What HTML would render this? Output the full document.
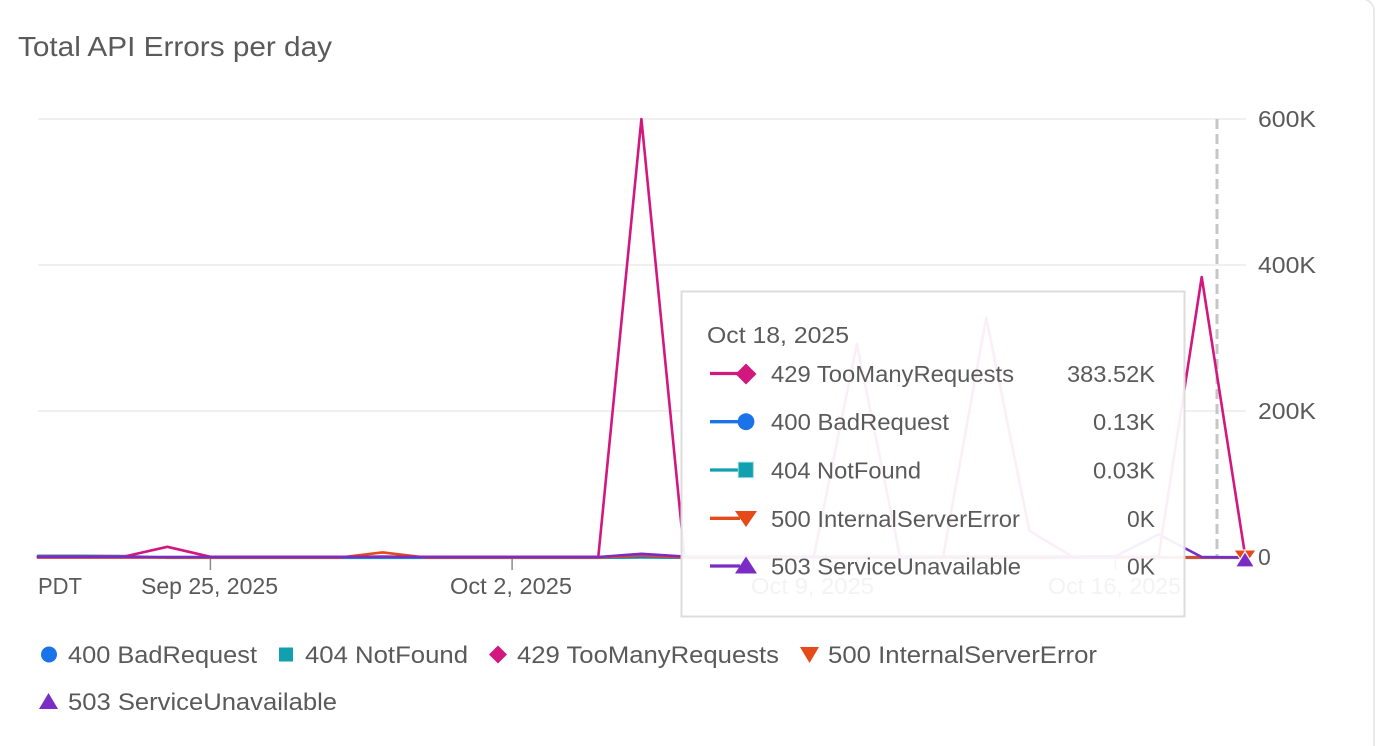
<!DOCTYPE html>
<html><head><meta charset="utf-8"><style>
html,body{margin:0;padding:0;background:#fff;width:1378px;height:746px;overflow:hidden;}
svg{display:block;}
text{font-family:"Liberation Sans",Arial,sans-serif;fill:#5a5a5a;}
</style></head><body>
<svg width="1378" height="746" viewBox="0 0 1378 746" xmlns="http://www.w3.org/2000/svg">
<rect x="0" y="0" width="1378" height="746" fill="#ffffff"/>
<rect x="-20" y="-1" width="1394" height="760" rx="12" fill="#ffffff" stroke="#e4e4e4" stroke-width="1.5"/>

<text x="18" y="56" font-size="28" textLength="314" lengthAdjust="spacingAndGlyphs">Total API Errors per day</text>

<!-- grid -->
<g stroke="#ececec" stroke-width="1.5">
<line x1="38" y1="119" x2="1246" y2="119"/>
<line x1="38" y1="265" x2="1246" y2="265"/>
<line x1="38" y1="411" x2="1246" y2="411"/>
<line x1="38" y1="557" x2="1246" y2="557"/>
</g>

<!-- y labels -->
<g font-size="23">
<text x="1258" y="127" textLength="58" lengthAdjust="spacingAndGlyphs">600K</text>
<text x="1258" y="273" textLength="58" lengthAdjust="spacingAndGlyphs">400K</text>
<text x="1258" y="419" textLength="58" lengthAdjust="spacingAndGlyphs">200K</text>
<text x="1258" y="565">0</text>
</g>

<!-- ticks -->
<g stroke="#8a8a8a" stroke-width="1.5">
<line x1="210.4" y1="559" x2="210.4" y2="570"/>
<line x1="512.1" y1="559" x2="512.1" y2="570"/>
<line x1="813.8" y1="559" x2="813.8" y2="570"/>
<line x1="1115.5" y1="559" x2="1115.5" y2="570"/>
</g>

<!-- x labels -->
<g font-size="23">
<text x="38" y="594" textLength="44" lengthAdjust="spacingAndGlyphs">PDT</text>
<text x="141" y="594" textLength="137" lengthAdjust="spacingAndGlyphs">Sep 25, 2025</text>
<text x="450" y="594" textLength="122" lengthAdjust="spacingAndGlyphs">Oct 2, 2025</text>
<text x="751" y="594" textLength="123" lengthAdjust="spacingAndGlyphs">Oct 9, 2025</text>
<text x="1048" y="594" textLength="133" lengthAdjust="spacingAndGlyphs">Oct 16, 2025</text>
</g>

<!-- dashed crosshair -->
<line x1="1217" y1="119" x2="1217" y2="557" stroke="#c6c6c6" stroke-width="3" stroke-dasharray="10 5"/>

<!-- series -->
<g fill="none" stroke-width="2.6" stroke-linejoin="round" stroke-linecap="round">
<polyline stroke="#12a0b0" points="38,555.8 81.1,555.8 124.2,556 167.3,557.8 210.4,557.8 253.5,557.8 296.6,557.8 339.7,557.8 382.8,557.8 425.9,557.8 469,557.8 512.1,557.8 555.2,557.8 598.3,557.8 641.4,557.5 684.5,557.8 727.6,557.8 770.7,557.8 813.8,557.8 856.9,557.8 900,557.8 943.1,557.8 986.2,557.8 1029.3,557.8 1072.4,557.8 1115.5,557.8 1158.6,557.8 1201.7,557.8 1244.8,557.8"/>
<polyline stroke="#1a73e8" points="38,557.2 81.1,557.2 124.2,557.2 167.3,557.2 210.4,557.2 253.5,557.2 296.6,557.2 339.7,557.2 382.8,557.2 425.9,557.2 469,557.2 512.1,557.2 555.2,557.2 598.3,557.2 641.4,556.5 684.5,557.2 727.6,557.2 770.7,557.2 813.8,557.2 856.9,557.2 900,557.2 943.1,557.2 986.2,557.2 1029.3,557.2 1072.4,557.2 1115.5,557.2 1158.6,557.2 1201.7,557.2 1244.8,557.2"/>
<polyline stroke="#e64a19" points="38,557.6 81.1,557.6 124.2,557.6 167.3,557.6 210.4,557.6 253.5,557.6 296.6,557.6 339.7,557.6 382.8,552.4 425.9,557.6 469,557.6 512.1,557.6 555.2,557.6 598.3,557.6 641.4,555.5 684.5,557.6 727.6,557.6 770.7,557.6 813.8,557.6 856.9,557.6 900,557.6 943.1,557.6 986.2,557.6 1029.3,557.6 1072.4,557.6 1115.5,557.6 1158.6,557.6 1201.7,557.6 1244.8,557.6"/>
<polyline stroke="#d2177f" points="38,556.6 81.1,556.6 124.2,556.6 167.3,546.8 210.4,556.8 253.5,556.8 296.6,556.8 339.7,556.8 382.8,556.8 425.9,556.8 469,556.8 512.1,556.8 555.2,556.8 598.3,556.8 641.4,119 684.5,556.8 727.6,556.8 770.7,556.8 813.8,556.8 856.9,343.8 900,556.8 943.1,556.8 986.2,317.6 1029.3,530.7 1072.4,556.8 1115.5,556.8 1158.6,556.8 1201.7,277 1244.8,553.4"/>
<polyline stroke="#7a2cc4" points="38,557 81.1,557 124.2,557 167.3,557 210.4,557 253.5,557 296.6,557 339.7,557 382.8,556.6 425.9,557 469,557 512.1,557 555.2,557 598.3,557 641.4,553.8 684.5,556.6 727.6,556.6 770.7,556.6 813.8,556.6 856.9,556.6 900,556.6 943.1,556.6 986.2,556.6 1029.3,556.6 1072.4,556.6 1115.5,556.2 1158.6,534.4 1201.7,557 1244.8,557.5"/>
</g>

<!-- hover markers at end -->
<polygon points="1234,550 1256,550 1245,566" fill="#e64a19" stroke="#fff" stroke-width="1"/>
<polygon points="1235.5,567 1254.5,567 1245,551.5" fill="#7a2cc4" stroke="#fff" stroke-width="1.2"/>

<!-- tooltip -->
<rect x="681.5" y="291.5" width="503" height="325" fill="#ffffff" fill-opacity="0.93" stroke="#dcdcde" stroke-width="2"/>
<text x="707" y="343" font-size="23" textLength="142" lengthAdjust="spacingAndGlyphs">Oct 18, 2025</text>

<g stroke-width="3.3">
<line x1="710" y1="373.5" x2="738" y2="373.5" stroke="#d2177f"/>
<line x1="710" y1="421.7" x2="738" y2="421.7" stroke="#1a73e8"/>
<line x1="710" y1="470" x2="738" y2="470" stroke="#12a0b0"/>
<line x1="710" y1="518.3" x2="740" y2="518.3" stroke="#e64a19"/>
<line x1="710" y1="566" x2="740" y2="566" stroke="#7a2cc4"/>
</g>
<polygon points="746,363.5 756.5,374 746,384.5 735.5,374" fill="#d2177f"/>
<circle cx="746" cy="421.7" r="8.4" fill="#1a73e8"/>
<rect x="738.3" y="462.2" width="15" height="15.4" fill="#12a0b0" stroke="#8fd5dd" stroke-width="1"/>
<polygon points="735,511 757,511 746,527" fill="#e64a19"/>
<polygon points="735,573.5 757,573.5 746,556.5" fill="#7a2cc4"/>

<g font-size="23">
<text x="771" y="382" textLength="243" lengthAdjust="spacingAndGlyphs">429 TooManyRequests</text>
<text x="771" y="430" textLength="178" lengthAdjust="spacingAndGlyphs">400 BadRequest</text>
<text x="771" y="478.5" textLength="150" lengthAdjust="spacingAndGlyphs">404 NotFound</text>
<text x="771" y="527" textLength="249" lengthAdjust="spacingAndGlyphs">500 InternalServerError</text>
<text x="771" y="574.5" textLength="250" lengthAdjust="spacingAndGlyphs">503 ServiceUnavailable</text>
<text x="1155" y="382" text-anchor="end" textLength="88" lengthAdjust="spacingAndGlyphs">383.52K</text>
<text x="1155" y="430" text-anchor="end" textLength="62" lengthAdjust="spacingAndGlyphs">0.13K</text>
<text x="1155" y="478.5" text-anchor="end" textLength="62" lengthAdjust="spacingAndGlyphs">0.03K</text>
<text x="1155" y="527" text-anchor="end" textLength="28" lengthAdjust="spacingAndGlyphs">0K</text>
<text x="1155" y="574.5" text-anchor="end" textLength="28" lengthAdjust="spacingAndGlyphs">0K</text>
</g>

<!-- legend -->
<circle cx="49" cy="654.5" r="8" fill="#1a73e8"/>
<rect x="279" y="647.5" width="14" height="14" fill="#12a0b0"/>
<polygon points="498,645.5 507,654.5 498,663.5 489,654.5" fill="#d2177f"/>
<polygon points="800,647 819,647 809.5,663" fill="#e64a19"/>
<polygon points="39,709 58,709 48.5,693" fill="#7a2cc4"/>
<g font-size="24.5">
<text x="68" y="663" textLength="189" lengthAdjust="spacingAndGlyphs">400 BadRequest</text>
<text x="305" y="663" textLength="163" lengthAdjust="spacingAndGlyphs">404 NotFound</text>
<text x="517" y="663" textLength="262" lengthAdjust="spacingAndGlyphs">429 TooManyRequests</text>
<text x="828" y="663" textLength="269" lengthAdjust="spacingAndGlyphs">500 InternalServerError</text>
<text x="68" y="710" textLength="269" lengthAdjust="spacingAndGlyphs">503 ServiceUnavailable</text>
</g>
</svg>
</body></html>
